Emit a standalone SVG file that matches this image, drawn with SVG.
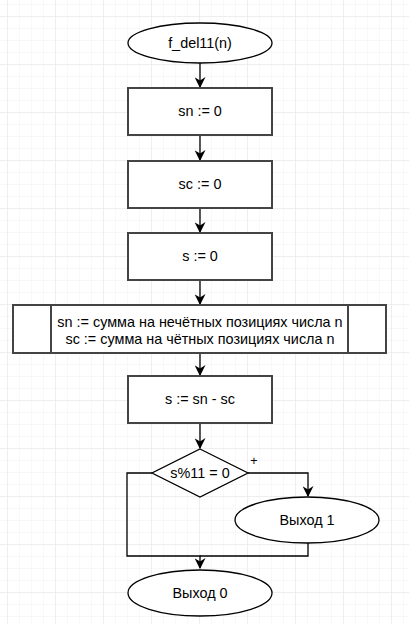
<svg xmlns="http://www.w3.org/2000/svg" width="409" height="624" viewBox="0 0 409 624">
<defs>
<pattern id="minor" x="7" y="4" width="12" height="12" patternUnits="userSpaceOnUse">
<path d="M0 0H12M0 0V12" fill="none" stroke="#f2f2f2" stroke-width="1"/>
</pattern>
<pattern id="major" x="7" y="16" width="48" height="48" patternUnits="userSpaceOnUse">
<path d="M0 0H48M0 0V48" fill="none" stroke="#e3e3e3" stroke-width="1"/>
</pattern>
<marker id="arr" viewBox="0 0 10 10" refX="9" refY="5" markerWidth="11" markerHeight="11" markerUnits="userSpaceOnUse" orient="auto">
<path d="M0 0L10 5L0 10L3 5Z" fill="#000"/>
</marker>
</defs>
<style>
.s{fill:#fff;stroke:#000;stroke-width:1.3}
.b{fill:#fff;stroke:#444;stroke-width:2}
.t{font-family:"Liberation Sans",Arial,sans-serif;font-size:14.4px;fill:#000;text-anchor:middle}
.c{fill:none;stroke:#000;stroke-width:1.3}
</style>
<rect width="409" height="624" fill="#fff"/>
<rect width="409" height="624" fill="url(#minor)"/>
<rect width="409" height="624" fill="url(#major)"/>
<g id="connectors">
<path class="c" d="M200 63V87" marker-end="url(#arr)"/>
<path class="c" d="M200 135V160" marker-end="url(#arr)"/>
<path class="c" d="M200 208V232" marker-end="url(#arr)"/>
<path class="c" d="M200 280V304" marker-end="url(#arr)"/>
<path class="c" d="M200 353V375" marker-end="url(#arr)"/>
<path class="c" d="M200 423V448" marker-end="url(#arr)"/>
<path class="c" d="M248 473H308V496" marker-end="url(#arr)"/>
<path class="c" d="M152 473H127V556H200V568" marker-end="url(#arr)"/>
<path class="c" d="M308 543V556H200"/>
<text class="t" x="254" y="465" style="font-size:12.5px">+</text>
</g>
<g id="start">
<ellipse class="s" cx="200" cy="43" rx="72" ry="20"/>
<text class="t" x="200" y="48">f_del11(n)</text>
</g>
<g id="sn0">
<rect class="b" x="128" y="88" width="144" height="47"/>
<text class="t" x="200" y="116">sn := 0</text>
</g>
<g id="sc0">
<rect class="b" x="128" y="161" width="144" height="47"/>
<text class="t" x="200" y="189">sc := 0</text>
</g>
<g id="s0">
<rect class="b" x="128" y="233" width="144" height="47"/>
<text class="t" x="200" y="261">s := 0</text>
</g>
<g id="sums">
<rect class="b" x="13" y="305" width="373" height="48"/>
<path d="M51 305V353M348 305V353" stroke="#444" stroke-width="2"/>
<text class="t" x="200" y="327">sn := сумма на нечётных позициях числа n</text>
<text class="t" x="200" y="344">sc := сумма на чётных позициях числа n</text>
</g>
<g id="sdiff">
<rect class="b" x="128" y="376" width="144" height="47"/>
<text class="t" x="200" y="404">s := sn - sc</text>
</g>
<g id="cond">
<path class="s" d="M200 449L248 473L200 497L152 473Z"/>
<text class="t" x="200" y="478">s%11 = 0</text>
</g>
<g id="exit1">
<ellipse class="s" cx="307" cy="520" rx="72" ry="23"/>
<text class="t" x="307" y="525">Выход 1</text>
</g>
<g id="exit0">
<ellipse class="s" cx="200" cy="593" rx="72" ry="23"/>
<text class="t" x="200" y="598">Выход 0</text>
</g>
</svg>
